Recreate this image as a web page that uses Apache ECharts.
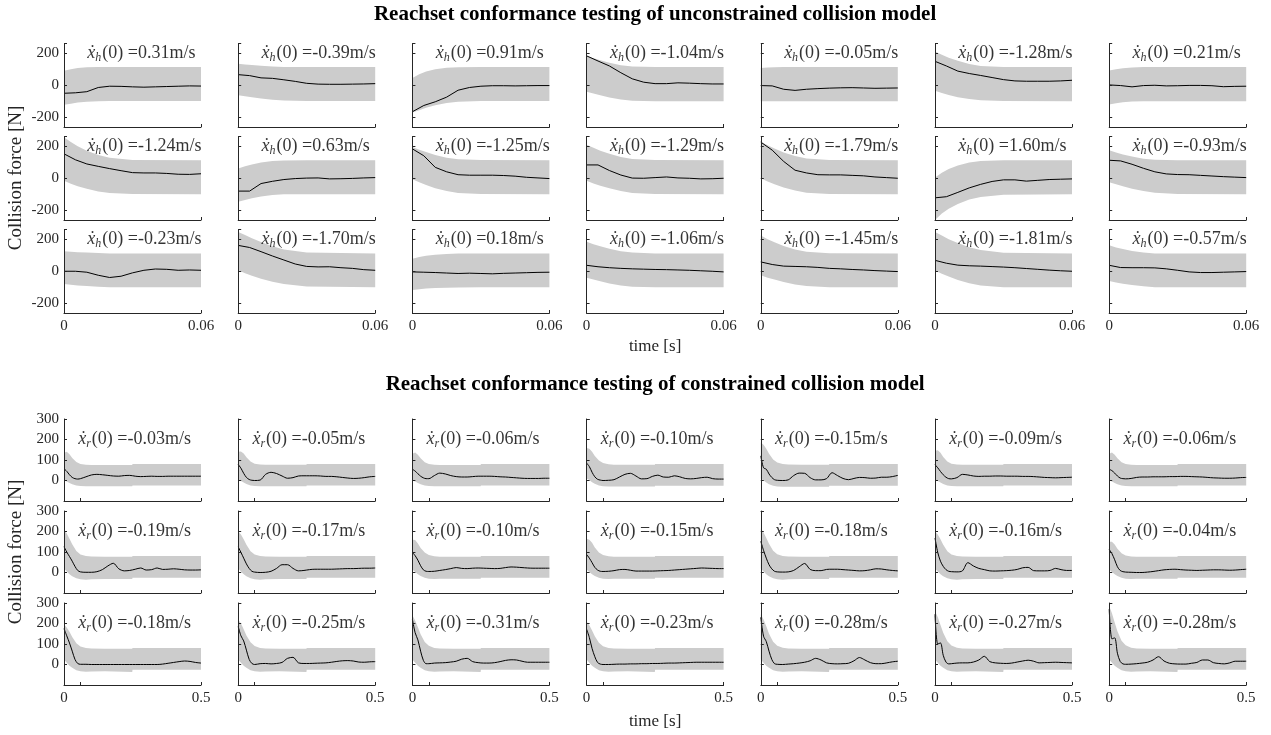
<!DOCTYPE html>
<html><head><meta charset="utf-8">
<script src="https://cdn.jsdelivr.net/npm/echarts@6/dist/echarts.min.js"></script>
<style>html,body{margin:0;padding:0;background:#fff}#c{width:1271px;height:735px}</style>
</head><body><div id="c"></div>
<script>
// ---------------- DATA ----------------
const titleTop = 'Reachset conformance testing of unconstrained collision model';
const titleBot = 'Reachset conformance testing of constrained collision model';
const yName = 'Collision force [N]';
const xName = 'time [s]';

// unconstrained model (top block)
const tTop = [0,0.005,0.01,0.015,0.02,0.025,0.03,0.035,0.04,0.045,0.05,0.055,0.06];
const tBandTop = [0,0.003,0.006,0.01,0.015,0.02,0.03,0.06];
const topXTicks = [0,0.06];
const topYTicks = [-200,0,200];
const topVel = ['0.31','-0.39','0.91','-1.04','-0.05','-1.28','0.21',
                '-1.24','0.63','-1.25','-1.29','-1.79','1.60','-0.93',
                '-0.23','-1.70','0.18','-1.06','-1.45','-1.81','-0.57'];
const topLines = [
 [-50,-47,-40,-14,-6,-7,-10,-12,-10,-8,-6,-4,-5],
 [66,60,46,43,34,24,12,7,6,6,7,8,10],
 [-165,-126,-103,-74,-31,-14,-6,-3,-3,-4,-3,-2,-2],
 [183,151,120,78,40,19,10,10,15,13,10,8,8],
 [-2,-4,-25,-32,-25,-21,-18,-16,-15,-17,-19,-18,-17],
 [149,120,88,73,61,48,35,27,25,25,25,27,31],
 [2,-2,-10,-2,0,-4,-3,-1,-1,-3,-9,-7,-6],
 [152,115,89,74,60,47,35,33,33,30,25,24,28],
 [-80,-80,-33,-19,-8,-2,1,2,-4,-3,-1,2,4],
 [183,140,68,40,22,19,19,19,17,13,6,2,-2],
 [83,83,48,20,1,0,4,8,2,0,-4,-3,0],
 [225,175,105,50,33,22,21,21,18,15,8,4,0],
 [-122,-115,-88,-60,-38,-20,-10,-10,-18,-13,-8,-6,-4],
 [112,108,87,62,40,27,23,22,18,14,10,7,4],
 [0,0,-6,-25,-39,-31,-10,6,14,12,6,8,6],
 [161,148,122,95,70,45,30,27,28,22,18,10,6],
 [-4,-6,-8,-11,-14,-12,-14,-16,-13,-11,-9,-7,-6],
 [37,28,22,18,15,13,11,10,8,6,3,0,-4],
 [58,42,32,30,28,24,18,15,11,8,4,1,-2],
 [68,50,38,34,32,29,26,22,17,12,7,3,0],
 [37,23,22,22,21,15,6,-4,-8,-8,-6,-4,-2]
];
const topUpper = [
 [90,100,107,112,114,114,114,114],
 [134,130,126,121,116,114,113,113],
 [45,68,85,100,109,112,113,113],
 [183,168,155,140,125,116,113,113],
 [108,110,112,113,113,113,113,113],
 [210,190,172,152,132,120,114,113],
 [92,100,106,110,113,113,113,113],
 [255,225,200,172,145,127,114,112],
 [60,75,86,98,107,111,112,112],
 [195,178,163,145,128,118,113,112],
 [208,190,172,152,132,120,113,112],
 [228,205,185,160,138,123,113,112],
 [5,35,58,80,98,107,112,112],
 [175,160,148,135,122,115,112,112],
 [125,122,119,116,113,111,110,110],
 [245,225,205,182,155,136,117,110],
 [78,88,96,103,108,110,110,110],
 [183,168,155,140,125,116,111,110],
 [222,200,180,158,136,122,112,110],
 [245,222,200,176,150,132,115,110],
 [162,148,138,126,116,111,110,110]
];
const topLower = [
 [-122,-115,-108,-102,-99,-98,-98,-98],
 [-62,-68,-75,-83,-91,-95,-98,-98],
 [-170,-155,-140,-124,-110,-102,-98,-98],
 [-40,-52,-63,-76,-88,-96,-99,-99],
 [-100,-100,-100,-99,-99,-99,-99,-99],
 [-34,-48,-60,-74,-86,-94,-98,-99],
 [-120,-112,-106,-101,-99,-99,-99,-99],
 [-15,-35,-50,-66,-82,-92,-98,-99],
 [-146,-135,-125,-114,-105,-100,-99,-99],
 [-6,-25,-42,-62,-80,-92,-98,-99],
 [-15,-32,-47,-63,-80,-92,-98,-99],
 [0,-20,-38,-58,-77,-90,-98,-99],
 [-260,-220,-190,-160,-133,-117,-103,-99],
 [-25,-38,-50,-65,-80,-90,-98,-99],
 [-80,-84,-88,-92,-96,-99,-100,-100],
 [6,-12,-28,-47,-66,-80,-95,-100],
 [-117,-112,-108,-104,-102,-101,-100,-100],
 [-40,-52,-63,-76,-88,-96,-100,-100],
 [-25,-40,-52,-67,-82,-92,-99,-100],
 [5,-15,-33,-54,-74,-88,-99,-100],
 [-60,-70,-78,-86,-94,-99,-100,-100]
];

// constrained model (bottom block)
const tBot = [0,0.01,0.02,0.03,0.04,0.05,0.06,0.08,0.10,0.12,0.14,0.16,0.18,0.20,0.22,0.24,0.26,0.28,0.30,0.32,0.34,0.36,0.38,0.40,0.42,0.44,0.46,0.48,0.50];
const tBandBot = [0,0.01,0.02,0.03,0.045,0.06,0.08,0.1,0.15,0.249,0.25,0.5];
const botXTicks = [0,0.06,0.5];
const botXLabels = [0,0.5];
const botYTicks = [0,100,200,300];
const botVel = ['-0.03','-0.05','-0.06','-0.10','-0.15','-0.09','-0.06',
                '-0.19','-0.17','-0.10','-0.15','-0.18','-0.16','-0.04',
                '-0.18','-0.25','-0.31','-0.23','-0.28','-0.27','-0.28'];
const botLines = [
 [58,45,28,15,9,7,9,18,27,30,28,25,22,21,24,25,21,19,20,21,20,20,21,21,21,21,21,21,21],
 [78,60,35,15,5,1,0,2,30,40,34,22,11,14,22,23,23,23,22,20,20,18,15,12,10,11,14,18,20],
 [55,46,33,21,13,9,9,24,36,32,24,19,17,17,19,21,21,21,20,18,17,15,13,11,10,10,10,11,11],
 [85,68,40,18,6,2,0,1,4,17,30,35,22,8,9,20,26,17,16,23,18,10,8,10,14,16,9,7,7],
 [120,62,55,32,15,4,1,0,3,24,36,35,14,3,3,9,38,24,10,4,10,15,14,11,12,16,16,19,25],
 [77,62,44,28,16,9,8,14,30,27,22,20,21,21,22,22,21,21,21,20,20,19,17,15,14,13,14,15,16],
 [55,48,36,22,12,9,8,10,15,17,17,18,18,18,19,19,20,20,19,18,17,15,13,12,11,11,12,14,15],
 [126,100,78,55,30,10,3,1,1,4,14,32,45,18,8,10,16,22,12,14,22,15,16,18,16,13,12,12,13],
 [125,98,70,42,20,6,2,0,1,6,20,38,38,20,8,10,14,16,16,16,16,17,18,19,19,20,21,21,22],
 [98,82,60,33,13,6,5,6,10,14,19,24,20,19,21,22,21,20,19,20,24,27,26,24,22,21,21,21,21],
 [88,70,48,25,12,6,5,6,9,14,15,11,7,7,7,7,8,9,10,12,14,16,18,20,22,21,20,19,19],
 [152,108,70,38,18,6,3,2,3,10,28,44,15,9,9,15,16,16,14,12,10,8,9,13,18,17,13,10,8],
 [168,98,55,30,14,6,4,3,8,48,32,20,14,8,7,8,9,11,15,23,25,9,8,8,10,20,14,10,10],
 [112,92,62,28,10,4,2,1,0,0,2,5,9,13,15,16,14,12,11,10,11,12,13,13,12,11,12,14,16],
 [175,140,105,65,25,5,1,1,0,0,0,0,0,0,0,0,0,0,0,0,0,2,6,10,14,17,15,10,7],
 [185,140,115,70,25,5,0,4,5,3,5,10,30,35,8,5,5,6,7,8,11,15,18,19,17,12,11,13,14],
 [220,155,120,65,20,4,4,7,8,9,12,16,26,30,14,9,7,7,9,14,20,23,22,16,11,11,11,11,11],
 [172,132,78,38,10,2,0,0,1,2,2,3,3,4,4,5,5,6,7,7,8,9,10,11,11,11,11,11,11],
 [230,138,112,65,25,4,1,0,2,4,7,11,18,30,22,8,4,3,4,6,18,34,22,9,4,4,8,13,16],
 [245,100,105,45,12,3,4,7,8,8,12,22,40,14,8,6,5,7,12,17,21,16,8,9,10,11,10,9,8],
 [270,125,130,55,15,3,1,2,4,7,11,22,38,17,6,3,2,2,6,10,22,22,9,5,3,8,16,16,16]
];
const botUpper = [
 [135,140,128,110,90,80,77,76,76,76,80,80],
 [140,142,132,114,93,82,78,77,77,77,81,81],
 [130,136,126,108,89,80,77,76,76,76,80,80],
 [158,155,140,120,97,85,79,77,77,77,81,81],
 [185,175,155,130,102,88,80,78,77,77,81,81],
 [145,148,135,115,93,82,78,77,77,77,81,81],
 [130,136,126,108,89,80,77,76,76,76,80,80],
 [207,190,165,138,105,88,80,78,77,77,81,81],
 [200,185,162,135,104,88,80,78,77,77,81,81],
 [160,158,142,120,98,85,79,77,77,77,81,81],
 [165,160,145,122,98,85,79,77,77,77,81,81],
 [215,195,168,140,106,89,80,78,77,77,81,81],
 [200,185,162,135,104,88,80,78,77,77,81,81],
 [150,150,136,116,94,83,78,77,77,77,81,81],
 [195,180,160,134,104,88,80,78,77,77,81,81],
 [220,200,172,142,108,90,81,78,77,77,81,81],
 [240,215,182,148,110,91,81,78,77,77,81,81],
 [210,192,166,138,106,89,80,78,77,77,81,81],
 [245,220,186,150,111,92,82,78,77,77,81,81],
 [260,232,193,155,113,93,82,78,77,77,81,81],
 [285,250,205,162,116,94,82,78,77,77,81,81]
];
const botLower = [
 [0,-5,-12,-18,-24,-27,-28,-28,-28,-28,-24,-24],
 [5,-2,-10,-17,-24,-27,-28,-28,-28,-28,-24,-24],
 [0,-5,-12,-18,-24,-27,-28,-28,-28,-28,-24,-24],
 [10,2,-8,-16,-24,-28,-29,-29,-29,-29,-25,-25],
 [10,0,-10,-18,-26,-29,-30,-30,-30,-30,-25,-25],
 [5,-2,-10,-17,-24,-27,-28,-28,-28,-28,-24,-24],
 [0,-5,-12,-18,-24,-27,-28,-28,-28,-28,-24,-24],
 [20,5,-8,-18,-28,-33,-35,-33,-32,-32,-26,-26],
 [20,5,-8,-18,-28,-33,-35,-33,-32,-32,-26,-26],
 [15,3,-8,-17,-26,-30,-32,-31,-30,-30,-25,-25],
 [15,3,-8,-17,-26,-30,-32,-31,-30,-30,-25,-25],
 [20,5,-8,-18,-28,-33,-35,-33,-32,-32,-26,-26],
 [20,5,-8,-18,-28,-33,-35,-33,-32,-32,-26,-26],
 [15,3,-8,-17,-26,-30,-32,-31,-30,-30,-25,-25],
 [25,8,-6,-16,-28,-33,-35,-34,-33,-36,-26,-26],
 [25,8,-6,-16,-28,-33,-35,-34,-33,-36,-26,-26],
 [25,8,-6,-16,-28,-33,-35,-34,-33,-36,-26,-26],
 [25,8,-6,-16,-28,-33,-35,-34,-33,-36,-26,-26],
 [25,8,-6,-16,-28,-33,-35,-34,-33,-36,-26,-26],
 [25,8,-6,-16,-28,-33,-35,-34,-33,-36,-26,-26],
 [25,8,-6,-16,-28,-33,-35,-34,-33,-36,-26,-26]
];

// ---------------- CHART ----------------
const FONT = '"Liberation Serif", "Times New Roman", serif';
const AX = '#262626';
const BAND = '#cccccc';
const grid = [], xAxis = [], yAxis = [], series = [];
const COL0 = 64, COLSTEP = 174.2, PW = 137;

function pairs(t, v) { return t.map((x, i) => [x, v[i]]); }

function addPanel(cfg) {
  const gi = grid.length;
  grid.push({ left: cfg.left, top: cfg.top, width: PW, height: cfg.h });
  xAxis.push({
    gridIndex: gi, type: 'value', min: 0, max: cfg.xmax, z: 5,
    axisLine: { show: true, onZero: false, lineStyle: { color: AX, width: 1 } },
    axisTick: { show: true, inside: true, length: 3, customValues: cfg.xticks, lineStyle: { color: AX } },
    axisLabel: { show: cfg.showX, customValues: cfg.xlabels, fontFamily: FONT, fontSize: 15, color: AX, margin: 6 },
    splitLine: { show: false }
  });
  yAxis.push({
    gridIndex: gi, type: 'value', min: cfg.ymin, max: cfg.ymax, z: 5,
    axisLine: { show: true, onZero: false, lineStyle: { color: AX, width: 1 } },
    axisTick: { show: true, inside: true, length: 3, customValues: cfg.yticks.concat([cfg.ymax]), lineStyle: { color: AX } },
    axisLabel: { show: cfg.showY, customValues: cfg.yticks, fontFamily: FONT, fontSize: 15, color: AX, margin: 5 },
    splitLine: { show: false }
  });
  const tb = cfg.tb, up = cfg.up, lo = cfg.lo;
  series.push({
    type: 'custom', xAxisIndex: gi, yAxisIndex: gi, silent: true, z: 1, clip: true,
    data: [[0, 0]],
    renderItem: function (params, api) {
      const pts = [];
      for (let i = 0; i < tb.length; i++) pts.push(api.coord([tb[i], up[i]]));
      for (let i = tb.length - 1; i >= 0; i--) pts.push(api.coord([tb[i], lo[i]]));
      return { type: 'polygon', shape: { points: pts }, style: { fill: BAND, stroke: null } };
    }
  });
  series.push({
    type: 'line', xAxisIndex: gi, yAxisIndex: gi, data: pairs(cfg.t, cfg.line),
    symbol: 'none', silent: true, z: 3, smooth: cfg.smooth,
    lineStyle: { color: '#000', width: 1 }
  });
  series.push({
    type: 'scatter', xAxisIndex: gi, yAxisIndex: gi, data: [[cfg.lx, 200]],
    symbolSize: 1, itemStyle: { color: 'rgba(0,0,0,0)' }, silent: true, z: 4,
    label: {
      show: true, position: 'right', distance: 0,
      formatter: '{i|ẋ}{s|' + cfg.sub + '}{n|(0) =' + cfg.vel + 'm/s}',
      rich: {
        i: { fontFamily: FONT, fontStyle: 'italic', fontSize: 18, color: '#000' },
        s: { fontFamily: FONT, fontStyle: 'italic', fontSize: 12, color: '#000', padding: [9, 1, 0, 0] },
        n: { fontFamily: FONT, fontSize: 18, color: '#000' }
      }
    }
  });
}

for (let r = 0; r < 3; r++) {
  for (let c = 0; c < 7; c++) {
    const k = r * 7 + c;
    addPanel({
      left: COL0 + COLSTEP * c, top: 43.5 + 93 * r, h: 83.5,
      xmax: 0.06, ymin: -260, ymax: 260,
      xticks: topXTicks, xlabels: topXTicks, yticks: topYTicks,
      showX: r === 2, showY: c === 0,
      t: tTop, line: topLines[k], tb: tBandTop, up: topUpper[k], lo: topLower[k],
      lx: 0.01, sub: 'h', vel: topVel[k], smooth: false
    });
  }
}
for (let r = 0; r < 3; r++) {
  for (let c = 0; c < 7; c++) {
    const k = r * 7 + c;
    addPanel({
      left: COL0 + COLSTEP * c, top: 419 + 92 * r, h: 82,
      xmax: 0.5, ymin: -100, ymax: 300,
      xticks: botXTicks, xlabels: botXLabels, yticks: botYTicks,
      showX: r === 2, showY: c === 0,
      t: tBot, line: botLines[k], tb: tBandBot, up: botUpper[k], lo: botLower[k],
      lx: 0.05, sub: 'r', vel: botVel[k], smooth: 0.3
    });
  }
}

const cx = COL0 + (COLSTEP * 6 + PW) / 2;
const graphic = [
  { type: 'text', x: cx, y: 15, style: { text: titleTop, font: 'bold 21px ' + FONT, fill: '#000', align: 'center', verticalAlign: 'middle' } },
  { type: 'text', x: cx, y: 385, style: { text: titleBot, font: 'bold 21px ' + FONT, fill: '#000', align: 'center', verticalAlign: 'middle' } },
  { type: 'text', x: cx, y: 347, style: { text: xName, font: '17px ' + FONT, fill: AX, align: 'center', verticalAlign: 'middle' } },
  { type: 'text', x: cx, y: 722, style: { text: xName, font: '17px ' + FONT, fill: AX, align: 'center', verticalAlign: 'middle' } },
  { type: 'text', x: 16, y: 178, rotation: Math.PI / 2, style: { text: yName, font: '19px ' + FONT, fill: AX, align: 'center', verticalAlign: 'middle' } },
  { type: 'text', x: 16, y: 552, rotation: Math.PI / 2, style: { text: yName, font: '19px ' + FONT, fill: AX, align: 'center', verticalAlign: 'middle' } }
];

const chart = echarts.init(document.getElementById('c'));
chart.setOption({
  animation: false,
  backgroundColor: '#fff',
  grid, xAxis, yAxis, series, graphic
});
</script>
</body></html>
